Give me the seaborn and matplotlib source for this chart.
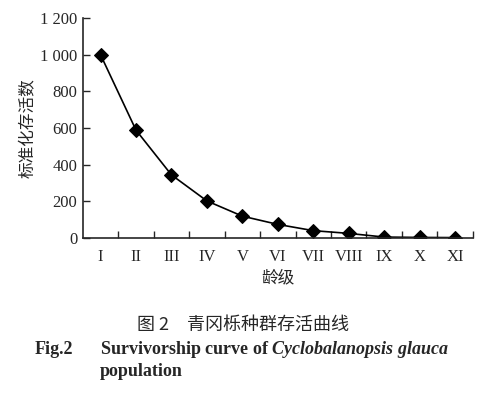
import numpy as np
import pandas as pd
import matplotlib
matplotlib.use('Agg')
import matplotlib.pyplot as plt
import seaborn as sns

# data
age_class = ['I', 'II', 'III', 'IV', 'V', 'VI', 'VII', 'VIII', 'IX', 'X', 'XI']
survivors = [1000, 589, 345, 203, 120, 75, 41, 26, 6, 4, 3]

df = pd.DataFrame({'pos': np.arange(len(age_class)), 'n': survivors})

sns.set_style('ticks')
plt.rcParams['font.family'] = ['Liberation Serif', 'Noto Sans CJK SC', 'DejaVu Sans']
plt.rcParams['mathtext.fontset'] = 'custom'
plt.rcParams['mathtext.it'] = 'Liberation Serif:italic:bold'
plt.rcParams['mathtext.rm'] = 'Liberation Serif:bold'

fig = plt.figure(figsize=(4.93, 3.93), dpi=100)
ax = fig.add_axes([0.168, 0.394, 0.791, 0.560])

sns.lineplot(data=df, x='pos', y='n', ax=ax, color='black', linewidth=1.2,
             marker='D', markersize=7.5, markerfacecolor='black',
             markeredgecolor='black')

ax.set_xlim(-0.5, len(age_class) - 0.5)
ax.set_ylim(0, 1200)
ax.set_yticks(range(0, 1201, 200))
ax.set_yticklabels(['0', '200', '400', '600', '800', '1 000', '1 200'], fontsize=12)

# boundary ticks pointing up, labels in the middle of each class
ax.set_xticks(np.arange(0.5, len(age_class), 1.0))
ax.set_xticklabels([])
ax.set_xticks(np.arange(len(age_class)), minor=True)
ax.set_xticklabels(age_class, minor=True, fontsize=12)
ax.tick_params(axis='x', which='major', direction='in', length=5, width=1)
ax.tick_params(axis='x', which='minor', length=0, pad=8)
ax.tick_params(axis='y', direction='in', length=5, width=1, pad=4)

for s in ['top', 'right']:
    ax.spines[s].set_visible(False)
for s in ['left', 'bottom']:
    ax.spines[s].set_linewidth(1.2)

ax.set_xlabel('龄级', fontsize=12, family=['Noto Sans CJK SC'], labelpad=3)
ax.set_ylabel('标准化存活数', fontsize=12, family=['Noto Sans CJK SC'], labelpad=2)

fig.text(137/493, 1 - 325/393, '图 2　青冈栎种群存活曲线', fontsize=13,
         family=['Noto Sans CJK SC', 'Liberation Serif'], va='center')
fig.text(35/493, 1 - 349/393, 'Fig.2', fontsize=13, fontweight='bold', va='center')
fig.text(100/493, 1 - 349/393,
         'Survivorship curve of $\\it{Cyclobalanopsis\\ glauca}$',
         fontsize=13, fontweight='bold', va='center')
fig.text(100/493, 1 - 372/393, 'population', fontsize=13, fontweight='bold', va='center')

fig.savefig('out.png', dpi=100)
